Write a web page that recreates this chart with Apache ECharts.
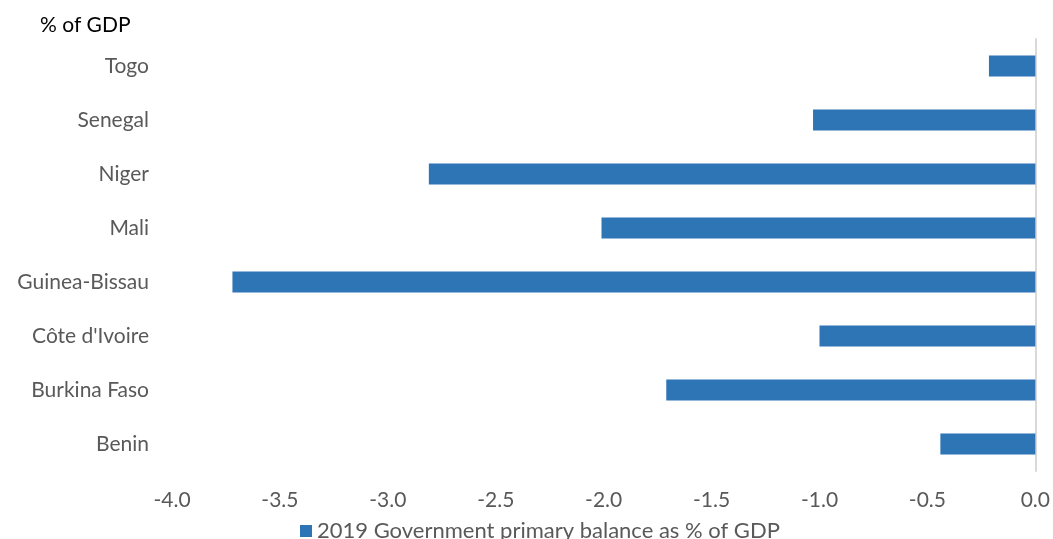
<!DOCTYPE html>
<html><head><meta charset="utf-8">
<script src="https://cdn.jsdelivr.net/npm/echarts@6/dist/echarts.min.js"></script>
<style>html,body{margin:0;padding:0;background:#fff}#c{width:1053px;height:539px}</style>
</head><body><div id="c"></div>
<script>
const categories = ["Benin","Burkina Faso","Côte d'Ivoire","Guinea-Bissau","Mali","Niger","Senegal","Togo"];
const values = [-0.44, -1.71, -1.0, -3.72, -2.01, -2.81, -1.03, -0.215];
const seriesName = "2019 Government primary balance as % of GDP";
const unitLabel = "% of GDP";
const xMin = -4, xMax = 0, xStep = 0.5;

const FONT = "Lato";
const FS = 21;
const chart = echarts.init(document.getElementById('c'));
chart.setOption({
  animation: false,
  textStyle: {fontFamily: FONT},
  title: {text: unitLabel, left: 35, top: 10, textStyle: {fontFamily: FONT, fontSize: FS, fontWeight: 'normal', color: '#000'}},
  legend: {
    data: [seriesName], top: 515, left: 295, itemWidth: 12, itemHeight: 12, itemGap: 9,
    icon: 'rect',
    textStyle: {fontFamily: FONT, fontSize: 22, color: '#595959'}
  },
  grid: {left: 172, right: 15, top: 39, bottom: 68},
  xAxis: {
    type: 'value', min: xMin, max: xMax, interval: xStep,
    axisLine: {show: false}, axisTick: {show: false}, splitLine: {show: false},
    axisLabel: {fontFamily: FONT, fontSize: FS, color: '#595959', margin: 19, formatter: v => v.toFixed(1)}
  },
  yAxis: [{
    type: 'category', data: categories, position: 'left',
    axisLine: {show: false}, axisTick: {show: false},
    axisLabel: {fontFamily: FONT, fontSize: FS, color: '#595959', margin: 23}
  }, {
    type: 'category', data: categories, position: 'right',
    axisLine: {show: true, onZero: false, lineStyle: {color: '#d9d9d9', width: 2}}, axisTick: {show: false},
    axisLabel: {show: false}
  }],
  series: [{
    name: seriesName, type: 'bar', data: values, barCategoryGap: '61%',
    itemStyle: {color: '#2E75B6'}
  }]
});
</script></body></html>
